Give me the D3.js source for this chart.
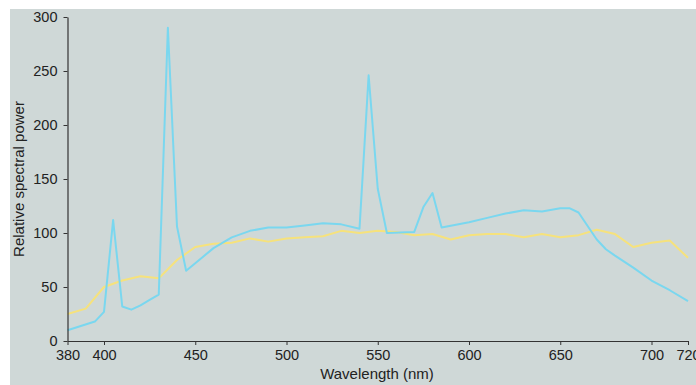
<!DOCTYPE html>
<html>
<head>
<meta charset="utf-8">
<script src="https://cdn.jsdelivr.net/npm/d3@7"></script>
<style>
  body { margin: 0; background: #fff; }
  #chart { width: 696px; height: 385px; }
</style>
</head>
<body>
<div id="chart"></div>
<script>
// wavelength (nm) / relative spectral power
var cyanWave  = [380, 395, 400, 405, 410, 415, 420, 425, 430, 435, 440, 445, 450, 460, 470, 480, 490, 500, 510, 520, 530, 540, 545, 550, 555, 570, 575, 580, 585, 600, 610, 620, 630, 640, 650, 655, 660, 670, 675, 680, 690, 700, 710, 720];
var cyanPower = [10, 18, 27, 112, 32, 29, 33, 38, 43, 290, 106, 65, 72, 86, 96, 102, 105, 105, 107, 109, 108, 104, 246, 141, 100, 101, 124, 137, 105, 110, 114, 118, 121, 120, 123, 123, 119, 94, 85, 79, 68, 56, 47, 37];

var yellowWave  = [380, 390, 400, 410, 420, 430, 440, 450, 460, 470, 480, 490, 500, 510, 520, 530, 540, 550, 560, 570, 580, 590, 600, 610, 620, 630, 640, 650, 660, 670, 680, 690, 700, 710, 720];
var yellowPower = [25, 30, 50, 56, 60, 58, 75, 87, 90, 91, 95, 92, 95, 96, 97, 102, 100, 102, 101, 98, 99, 94, 98, 99, 99, 96, 99, 96, 98, 103, 99, 87, 91, 93, 77];

var xTicks = [380, 400, 450, 500, 550, 600, 650, 700, 720];
var yTicks = [0, 50, 100, 150, 200, 250, 300];

var W = 696, H = 385;
var margin = { top: 17, right: 8, bottom: 44, left: 67.5 },
    width = W - margin.left - margin.right,
    height = H - margin.top - margin.bottom;

var svg = d3.select("#chart")
    .append("svg")
    .attr("width", W)
    .attr("height", H);

// grey panel behind everything
svg.append("rect")
    .attr("x", 10)
    .attr("y", 9)
    .attr("width", W - 10)
    .attr("height", H - 9)
    .attr("fill", "#cfd8d7");

var chart = svg.append("g")
    .attr("transform", "translate(" + margin.left + "," + margin.top + ")");

var xScale = d3.scaleLinear().domain([380, 720]).range([0, width]);
var yScale = d3.scaleLinear().domain([0, 300]).range([height, 0]);

var line = d3.line()
    .x(function (d) { return xScale(d[0]); })
    .y(function (d) { return yScale(d[1]); });

chart.append("path")
    .datum(d3.zip(yellowWave, yellowPower))
    .attr("fill", "none")
    .attr("stroke", "#f6e27c")
    .attr("stroke-width", 2)
    .attr("stroke-linejoin", "round")
    .attr("d", line);

chart.append("path")
    .datum(d3.zip(cyanWave, cyanPower))
    .attr("fill", "none")
    .attr("stroke", "#7ad7ef")
    .attr("stroke-width", 2)
    .attr("stroke-linejoin", "round")
    .attr("d", line);

// axes
var yAxis = chart.append("g")
    .call(d3.axisLeft(yScale).tickValues(yTicks).tickSize(4).tickPadding(6).tickSizeOuter(0));

var xAxis = chart.append("g")
    .attr("transform", "translate(0," + height + ")")
    .call(d3.axisBottom(xScale).tickValues(xTicks).tickSize(4).tickPadding(5).tickSizeOuter(0));

[xAxis, yAxis].forEach(function (a) {
    a.select(".domain").attr("stroke", "#333").attr("stroke-width", 1.2);
    a.selectAll(".tick line").attr("stroke", "#333");
    a.selectAll("text")
        .attr("fill", "#222")
        .style("font-family", "'Liberation Sans', Arial, sans-serif")
        .style("font-size", "14.5px");
});

// axis titles
svg.append("text")
    .attr("x", 377)
    .attr("y", 379)
    .attr("text-anchor", "middle")
    .attr("fill", "#222")
    .style("font-family", "'Liberation Sans', Arial, sans-serif")
    .style("font-size", "15px")
    .text("Wavelength (nm)");

svg.append("text")
    .attr("transform", "translate(24,179) rotate(-90)")
    .attr("text-anchor", "middle")
    .attr("fill", "#222")
    .style("font-family", "'Liberation Sans', Arial, sans-serif")
    .style("font-size", "15px")
    .text("Relative spectral power");
</script>
</body>
</html>
